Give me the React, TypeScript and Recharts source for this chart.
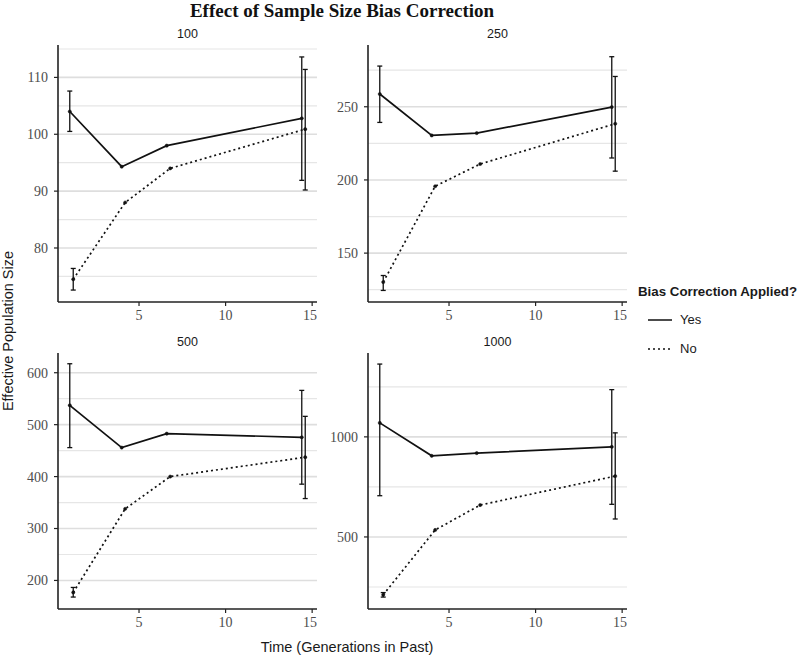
import { LineChart, Line, XAxis, YAxis, ReferenceLine, ErrorBar } from 'recharts'

// time points (generations in past); the "No" series is dodged a little to the right
const YES_X = [1, 4, 6.6, 14.4]
const NO_X = [1.2, 4.2, 6.8, 14.6]
const X_DOMAIN = [0.32, 15.28]
const X_TICKS = [5, 10, 15]

// panel 100
const P100_YES = [104.0, 94.3, 98.0, 102.8]
const P100_YES_LO = [100.5, null, null, 91.9]
const P100_YES_HI = [107.6, null, null, 113.6]
const P100_NO = [74.5, 88.0, 94.0, 100.9]
const P100_NO_LO = [72.6, null, null, 90.2]
const P100_NO_HI = [76.4, null, null, 111.4]
const P100_TICKS = [80, 90, 100, 110]
const P100_MINOR = [75, 85, 95, 105, 115]
const P100_DOMAIN = [70.5, 115.7]

// panel 250
const P250_YES = [258.7, 230.4, 232.0, 249.8]
const P250_YES_LO = [239.3, null, null, 215.0]
const P250_YES_HI = [277.8, null, null, 284.2]
const P250_NO = [130.2, 195.7, 210.9, 238.4]
const P250_NO_LO = [124.5, null, null, 206.0]
const P250_NO_HI = [134.7, null, null, 270.7]
const P250_TICKS = [150, 200, 250]
const P250_MINOR = [125, 175, 225, 275]
const P250_DOMAIN = [116.6, 292.2]

// panel 500
const P500_YES = [537.3, 455.8, 482.7, 475.7]
const P500_YES_LO = [455.8, null, null, 385.4]
const P500_YES_HI = [617.3, null, null, 566.0]
const P500_NO = [176.9, 337.9, 400.0, 437.3]
const P500_NO_LO = [168.0, null, null, 357.7]
const P500_NO_HI = [186.5, null, null, 516.0]
const P500_TICKS = [200, 300, 400, 500, 600]
const P500_MINOR = [250, 350, 450, 550]
const P500_DOMAIN = [145, 638]

// panel 1000
const P1000_YES = [1069.8, 905.3, 918.8, 950.2]
const P1000_YES_LO = [706, null, null, 663]
const P1000_YES_HI = [1363.7, null, null, 1236]
const P1000_NO = [211, 534.9, 659.4, 803.9]
const P1000_NO_LO = [199.6, null, null, 589.7]
const P1000_NO_HI = [222, null, null, 1020]
const P1000_TICKS = [500, 1000]
const P1000_MINOR = [250, 750, 1250]
const P1000_DOMAIN = [140, 1419]

type Num = number | null

const build = (xs: number[], ys: number[], lo: Num[], hi: Num[]) =>
  xs.map((x, i) => ({
    x,
    y: ys[i],
    err: lo[i] == null || hi[i] == null ? undefined : [ys[i] - (lo[i] as number), (hi[i] as number) - ys[i]],
  }))

const SERIF = '"Liberation Serif", "DejaVu Serif", serif'
const SANS = '"Liberation Sans", Arial, sans-serif'

const PLOT_W = 259
const Y_AXIS_W = 50
const X_AXIS_H = 30

interface PanelProps {
  title: string
  left: number
  top: number
  plotH: number
  yes: number[]; yesLo: Num[]; yesHi: Num[]
  no: number[]; noLo: Num[]; noHi: Num[]
  ticks: number[]
  minor: number[]
  domain: number[]
}

function Panel(p: PanelProps) {
  const yesData = build(YES_X, p.yes, p.yesLo, p.yesHi)
  const noData = build(NO_X, p.no, p.noLo, p.noHi)
  return (
    <div style={{ position: 'absolute', left: p.left - Y_AXIS_W, top: p.top }}>
      <div style={{
        position: 'absolute', left: Y_AXIS_W, width: PLOT_W, top: -18, textAlign: 'center',
        fontFamily: SANS, fontSize: 12.5, color: '#1a1a1a',
      }}>
        {p.title}
      </div>
      <LineChart
        width={PLOT_W + Y_AXIS_W}
        height={p.plotH + X_AXIS_H}
        margin={{ top: 0, right: 0, bottom: 0, left: 0 }}
      >
        <XAxis
          type="number"
          dataKey="x"
          domain={X_DOMAIN}
          ticks={X_TICKS}
          allowDataOverflow
          height={X_AXIS_H}
          axisLine={{ stroke: '#222', strokeWidth: 1.6 }}
          tickLine={{ stroke: '#222', strokeWidth: 1.2 }}
          tickSize={4}
          tickMargin={4}
          tick={{ fontFamily: SERIF, fontSize: 14, fill: '#4d4d4d' }}
        />
        <YAxis
          type="number"
          domain={p.domain}
          ticks={p.ticks}
          allowDataOverflow
          width={Y_AXIS_W}
          axisLine={{ stroke: '#222', strokeWidth: 1.6 }}
          tickLine={{ stroke: '#222', strokeWidth: 1.2 }}
          tickSize={4}
          tickMargin={6}
          tick={{ fontFamily: SERIF, fontSize: 14, fill: '#4d4d4d' }}
        />
        {p.minor.map(v => (
          <ReferenceLine key={'m' + v} y={v} stroke="#e6e6e6" strokeWidth={1.2} />
        ))}
        {p.ticks.map(v => (
          <ReferenceLine key={'t' + v} y={v} stroke="#dedede" strokeWidth={1.6} />
        ))}
        <Line
          data={yesData}
          dataKey="y"
          stroke="#111"
          strokeWidth={1.7}
          dot={{ r: 1.6, fill: '#111', stroke: '#111', strokeWidth: 0.5 }}
          isAnimationActive={false}
        >
          <ErrorBar dataKey="err" width={2.5} stroke="#111" strokeWidth={1.3} direction="y" />
        </Line>
        <Line
          data={noData}
          dataKey="y"
          stroke="#111"
          strokeWidth={1.7}
          strokeDasharray="2 3"
          dot={{ r: 1.6, fill: '#111', stroke: '#111', strokeWidth: 0.5, strokeDasharray: '' }}
          isAnimationActive={false}
        >
          <ErrorBar dataKey="err" width={2.5} stroke="#111" strokeWidth={1.3} direction="y" />
        </Line>
      </LineChart>
    </div>
  )
}

export default function App() {
  return (
    <div style={{ position: 'absolute', left: 0, top: 0, width: 799, height: 657, background: '#fff', overflow: 'hidden' }}>
      <div style={{
        position: 'absolute', left: 142, width: 400, top: 0, textAlign: 'center',
        fontFamily: SERIF, fontWeight: 700, fontSize: 19, color: '#111',
      }}>
        Effect of Sample Size Bias Correction
      </div>

      <Panel title="100" left={58} top={45} plotH={257}
        yes={P100_YES} yesLo={P100_YES_LO} yesHi={P100_YES_HI}
        no={P100_NO} noLo={P100_NO_LO} noHi={P100_NO_HI}
        ticks={P100_TICKS} minor={P100_MINOR} domain={P100_DOMAIN} />
      <Panel title="250" left={368} top={45} plotH={257}
        yes={P250_YES} yesLo={P250_YES_LO} yesHi={P250_YES_HI}
        no={P250_NO} noLo={P250_NO_LO} noHi={P250_NO_HI}
        ticks={P250_TICKS} minor={P250_MINOR} domain={P250_DOMAIN} />
      <Panel title="500" left={58} top={353} plotH={256}
        yes={P500_YES} yesLo={P500_YES_LO} yesHi={P500_YES_HI}
        no={P500_NO} noLo={P500_NO_LO} noHi={P500_NO_HI}
        ticks={P500_TICKS} minor={P500_MINOR} domain={P500_DOMAIN} />
      <Panel title="1000" left={368} top={353} plotH={256}
        yes={P1000_YES} yesLo={P1000_YES_LO} yesHi={P1000_YES_HI}
        no={P1000_NO} noLo={P1000_NO_LO} noHi={P1000_NO_HI}
        ticks={P1000_TICKS} minor={P1000_MINOR} domain={P1000_DOMAIN} />

      {/* axis titles */}
      <div style={{
        position: 'absolute', left: 8, top: 331, transform: 'translate(-50%, -50%) rotate(-90deg)',
        whiteSpace: 'nowrap', fontFamily: SANS, fontSize: 14.5, color: '#1a1a1a',
      }}>
        Effective Population Size
      </div>
      <div style={{
        position: 'absolute', left: 197, width: 300, top: 639, textAlign: 'center',
        fontFamily: SANS, fontSize: 14.5, color: '#1a1a1a',
      }}>
        Time (Generations in Past)
      </div>

      {/* legend */}
      <div style={{ position: 'absolute', left: 638, top: 284, fontFamily: SANS, color: '#1a1a1a' }}>
        <div style={{ fontWeight: 700, fontSize: 13.3 }}>Bias Correction Applied?</div>
        <div style={{ display: 'flex', alignItems: 'center', marginTop: 13, marginLeft: 10, fontSize: 13 }}>
          <svg width={24} height={4}><line x1={0} y1={2} x2={24} y2={2} stroke="#111" strokeWidth={1.5} /></svg>
          <span style={{ marginLeft: 8 }}>Yes</span>
        </div>
        <div style={{ display: 'flex', alignItems: 'center', marginTop: 14, marginLeft: 10, fontSize: 13 }}>
          <svg width={24} height={4}><line x1={0} y1={2} x2={24} y2={2} stroke="#111" strokeWidth={1.5} strokeDasharray="2 3" /></svg>
          <span style={{ marginLeft: 8 }}>No</span>
        </div>
      </div>
    </div>
  )
}
